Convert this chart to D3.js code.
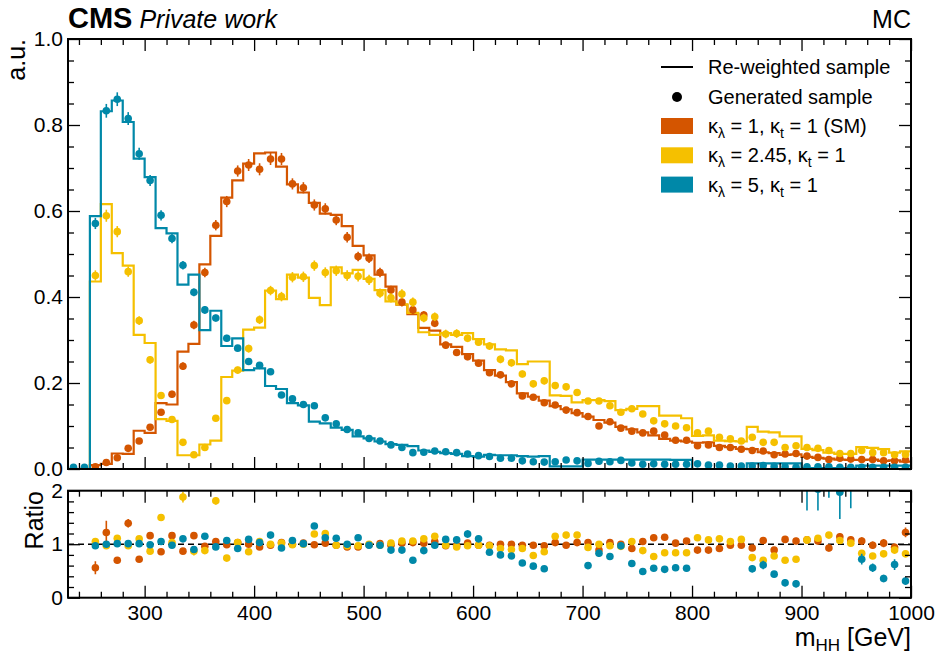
<!DOCTYPE html>
<html>
<head>
<meta charset="utf-8">
<script src="https://cdn.jsdelivr.net/npm/d3@7"></script>
<style>
  html, body { margin: 0; padding: 0; background: #fff; }
  svg { display: block; font-family: "Liberation Sans", Arial, sans-serif; }
</style>
</head>
<body>
<div id="chart"></div>
<script>
// m_HH bin edges, GeV (10 GeV bins)
const binEdges = [230, 240, 250, 260, 270, 280, 290, 300, 310, 320, 330, 340, 350, 360, 370, 380, 390, 400,
    410, 420, 430, 440, 450, 460, 470, 480, 490, 500, 510, 520, 530, 540, 550, 560, 570, 580, 590, 600,
    610, 620, 630, 640, 650, 660, 670, 680, 690, 700, 710, 720, 730, 740, 750, 760, 770, 780, 790, 800,
    810, 820, 830, 840, 850, 860, 870, 880, 890, 900, 910, 920, 930, 940, 950, 960, 970, 980, 990, 1000];

const xMajorTicks = [300, 400, 500, 600, 700, 800, 900, 1000];
const yMainTicks = [0, 0.2, 0.4, 0.6, 0.8, 1.0];
const yRatioTicks = [0, 1, 2];

const sampleKappaLambda = ['1', '2.45', '5'];
const sampleSuffix = [' (SM)', '', ''];
const sampleColours = ['#d45500', '#f5c000', '#0088a8'];

// kl = 1 (SM)
const reweightedSM = [
    0, 0, 0.009, 0.012, 0.036, 0.035, 0.089, 0.084, 0.153, 0.150,
    0.273, 0.291, 0.476, 0.542, 0.631, 0.671, 0.710, 0.734, 0.736, 0.703,
    0.662, 0.643, 0.619, 0.594, 0.591, 0.565, 0.519, 0.497, 0.452, 0.424,
    0.382, 0.360, 0.328, 0.322, 0.290, 0.284, 0.267, 0.252, 0.230, 0.217,
    0.202, 0.176, 0.168, 0.159, 0.146, 0.139, 0.130, 0.122, 0.114, 0.108,
    0.098, 0.092, 0.085, 0.078, 0.070, 0.066, 0.064, 0.061, 0.062, 0.054,
    0.051, 0.047, 0.046, 0.039, 0.037, 0.033, 0.034, 0.028, 0.026, 0.024,
    0.022, 0.021, 0.021, 0.022, 0.019, 0.020, 0.017];
const generatedSM = [
    0, 0, 0.005, 0.015, 0.026, 0.048, 0.065, 0.097, 0.132, 0.174,
    0.239, 0.335, 0.457, 0.567, 0.622, 0.693, 0.707, 0.697, 0.721, 0.721,
    0.663, 0.654, 0.614, 0.605, 0.579, 0.539, 0.494, 0.490, 0.457, 0.416,
    0.388, 0.370, 0.358, 0.339, 0.288, 0.271, 0.261, 0.246, 0.224, 0.219,
    0.198, 0.170, 0.167, 0.154, 0.149, 0.137, 0.131, 0.122, 0.100, 0.110,
    0.095, 0.088, 0.084, 0.088, 0.079, 0.067, 0.067, 0.054, 0.056, 0.050,
    0.050, 0.046, 0.043, 0.042, 0.033, 0.035, 0.036, 0.030, 0.027, 0.022,
    0.025, 0.023, 0.022, 0.022, 0.019, 0.019, 0.021];
const generatedSMErr = [
    0, 0, 0.002, 0.003, 0.003, 0.004, 0.005, 0.006, 0.007, 0.008,
    0.009, 0.010, 0.011, 0.012, 0.013, 0.013, 0.014, 0.014, 0.014, 0.014,
    0.013, 0.013, 0.013, 0.013, 0.012, 0.012, 0.011, 0.011, 0.011, 0.010,
    0.010, 0.010, 0.009, 0.009, 0.008, 0.008, 0.008, 0.008, 0.007, 0.007,
    0.007, 0.006, 0.006, 0.006, 0.006, 0.006, 0.005, 0.005, 0.005, 0.005,
    0.005, 0.005, 0.005, 0.005, 0.004, 0.004, 0.004, 0.004, 0.004, 0.004,
    0.004, 0.004, 0.004, 0.004, 0.003, 0.003, 0.003, 0.003, 0.003, 0.003,
    0.003, 0.003, 0.003, 0.003, 0.003, 0.003, 0.003];
const ratioSM = [
    null, null, 0.56, 1.22, 0.70, 1.39, 0.72, 1.16, 0.86, 1.16,
    0.87, 1.16, 0.96, 1.05, 0.99, 1.03, 1.00, 0.95, 0.98, 1.03,
    1.00, 1.02, 0.99, 1.02, 0.98, 0.95, 0.95, 0.99, 1.01, 0.98,
    1.02, 1.03, 1.02, 1.05, 0.97, 0.97, 1.02, 0.98, 0.98, 1.00,
    1.00, 0.98, 0.98, 0.97, 1.03, 0.98, 1.03, 1.03, 0.89, 1.03,
    1.00, 0.92, 1.05, 1.12, 1.13, 1.02, 1.06, 0.89, 0.89, 0.92,
    0.98, 0.98, 0.93, 1.07, 0.89, 1.09, 1.06, 1.08, 1.06, 0.93,
    1.14, 1.08, 1.06, 0.98, 1.02, 0.94, 1.22];
const ratioSMErr = [
    0, 0, 0.12, 0.22, 0.06, 0.08, 0.05, 0.04, 0.04, 0.03,
    0.03, 0.03, 0.02, 0.02, 0.02, 0.02, 0.02, 0.02, 0.02, 0.02,
    0.02, 0.02, 0.02, 0.02, 0.02, 0.02, 0.02, 0.02, 0.02, 0.02,
    0.02, 0.02, 0.025, 0.025, 0.025, 0.025, 0.025, 0.025, 0.025, 0.03,
    0.03, 0.03, 0.03, 0.03, 0.03, 0.035, 0.035, 0.035, 0.035, 0.035,
    0.04, 0.04, 0.04, 0.04, 0.04, 0.045, 0.045, 0.045, 0.05, 0.05,
    0.05, 0.05, 0.055, 0.055, 0.055, 0.06, 0.06, 0.06, 0.065, 0.065,
    0.065, 0.07, 0.07, 0.07, 0.075, 0.075, 0.09];

// kl = 2.45
const reweighted245 = [
    0, 0, 0.436, 0.616, 0.502, 0.473, 0.312, 0.293, 0.116, 0.112,
    0.032, 0.032, 0.057, 0.066, 0.214, 0.229, 0.324, 0.329, 0.415, 0.395,
    0.452, 0.445, 0.398, 0.381, 0.469, 0.455, 0.463, 0.442, 0.416, 0.390,
    0.383, 0.363, 0.318, 0.312, 0.316, 0.312, 0.316, 0.302, 0.290, 0.278,
    0.276, 0.244, 0.250, 0.250, 0.171, 0.170, 0.155, 0.160, 0.160, 0.158,
    0.137, 0.140, 0.146, 0.146, 0.124, 0.124, 0.118, 0.077, 0.078, 0.066,
    0.065, 0.064, 0.098, 0.087, 0.085, 0.076, 0.076, 0.047, 0.044, 0.038,
    0.035, 0.035, 0.051, 0.049, 0.046, 0.038, 0.041];
const generated245 = [
    0, 0, 0.450, 0.589, 0.552, 0.459, 0.345, 0.254, 0.171, 0.115,
    0.062, 0.033, 0.050, 0.118, 0.159, 0.230, 0.280, 0.347, 0.415, 0.401,
    0.446, 0.447, 0.473, 0.457, 0.461, 0.450, 0.448, 0.440, 0.409, 0.398,
    0.407, 0.388, 0.351, 0.354, 0.314, 0.315, 0.304, 0.295, 0.286, 0.255,
    0.247, 0.221, 0.198, 0.205, 0.194, 0.191, 0.178, 0.158, 0.158, 0.147,
    0.132, 0.140, 0.128, 0.112, 0.105, 0.100, 0.096, 0.084, 0.088, 0.074,
    0.070, 0.065, 0.074, 0.062, 0.062, 0.050, 0.054, 0.050, 0.048, 0.043,
    0.036, 0.036, 0.043, 0.038, 0.038, 0.033, 0.034];
const generated245Err = [
    0, 0, 0.012, 0.014, 0.013, 0.012, 0.010, 0.009, 0.007, 0.006,
    0.004, 0.003, 0.004, 0.006, 0.007, 0.008, 0.009, 0.010, 0.011, 0.011,
    0.012, 0.012, 0.012, 0.012, 0.012, 0.012, 0.012, 0.012, 0.011, 0.011,
    0.011, 0.011, 0.010, 0.010, 0.010, 0.010, 0.009, 0.009, 0.009, 0.009,
    0.009, 0.008, 0.008, 0.008, 0.008, 0.008, 0.007, 0.007, 0.007, 0.007,
    0.007, 0.007, 0.007, 0.006, 0.006, 0.006, 0.006, 0.005, 0.005, 0.005,
    0.005, 0.005, 0.005, 0.005, 0.005, 0.004, 0.004, 0.004, 0.004, 0.004,
    0.004, 0.004, 0.004, 0.004, 0.004, 0.004, 0.004];
const ratio245 = [
    null, null, 1.05, 0.97, 1.11, 0.97, 1.10, 0.87, 1.50, 1.03,
    1.88, 0.87, 0.88, 1.81, 0.74, 1.03, 0.86, 1.05, 1.00, 1.02,
    0.99, 1.00, 1.19, 1.20, 0.98, 0.97, 0.97, 1.00, 0.98, 1.02,
    1.06, 1.06, 1.10, 1.15, 0.98, 0.95, 0.97, 0.98, 0.97, 0.92,
    0.90, 0.92, 0.79, 0.86, 1.15, 1.17, 1.17, 0.94, 1.00, 0.97,
    0.96, 1.05, 0.88, 0.77, 0.84, 0.84, 0.84, 1.12, 1.08, 1.10,
    1.05, 1.09, 0.75, 0.70, 0.78, 0.70, 0.72, 1.08, 1.11, 1.17,
    1.07, 1.02, 0.83, 0.78, 0.82, 0.89, 0.82];
const ratio245Err = [
    0, 0, 0.02, 0.02, 0.02, 0.02, 0.02, 0.02, 0.05, 0.04,
    0.10, 0.08, 0.06, 0.07, 0.04, 0.03, 0.025, 0.025, 0.02, 0.02,
    0.02, 0.02, 0.02, 0.02, 0.02, 0.02, 0.02, 0.02, 0.02, 0.02,
    0.02, 0.02, 0.02, 0.025, 0.025, 0.025, 0.025, 0.025, 0.025, 0.025,
    0.025, 0.025, 0.03, 0.03, 0.03, 0.03, 0.03, 0.03, 0.03, 0.03,
    0.035, 0.035, 0.035, 0.035, 0.035, 0.035, 0.035, 0.04, 0.04, 0.04,
    0.04, 0.04, 0.045, 0.045, 0.045, 0.05, 0.05, 0.05, 0.05, 0.05,
    0.055, 0.055, 0.055, 0.055, 0.06, 0.06, 0.06];

// kl = 5
const reweighted5 = [
    0, 0, 0.588, 0.832, 0.857, 0.807, 0.722, 0.679, 0.560, 0.548,
    0.429, 0.452, 0.323, 0.368, 0.286, 0.304, 0.230, 0.234, 0.193, 0.186,
    0.153, 0.148, 0.110, 0.106, 0.096, 0.091, 0.076, 0.071, 0.064, 0.058,
    0.056, 0.053, 0.043, 0.040, 0.037, 0.035, 0.030, 0.029, 0.033, 0.032,
    0.032, 0.030, 0.029, 0.030, 0.006, 0.006, 0.006, 0.022, 0.022, 0.022,
    0.022, 0.022, 0.022, 0.022, 0.022, 0.021, 0.021, 0, 0, 0,
    0, 0, 0.013, 0.013, 0.013, 0.013, 0.013, 0.002, 0.002, 0.002,
    0.002, 0.002, 0.008, 0.008, 0.008, 0.008, 0.008];
const generated5 = [
    0.004, 0.004, 0.571, 0.833, 0.860, 0.815, 0.733, 0.671, 0.590, 0.536,
    0.474, 0.411, 0.370, 0.351, 0.304, 0.281, 0.250, 0.241, 0.226, 0.172,
    0.163, 0.150, 0.147, 0.119, 0.105, 0.092, 0.084, 0.071, 0.065, 0.056,
    0.050, 0.038, 0.039, 0.042, 0.040, 0.038, 0.035, 0.031, 0.029, 0.025,
    0.025, 0.019, 0.017, 0.016, 0.017, 0.021, 0.019, 0.013, 0.018, 0.017,
    0.020, 0.014, 0.011, 0.012, 0.011, 0.011, 0.011, 0.012, 0.009, 0.009,
    0.007, 0.007, 0.007, 0.008, 0.006, 0.005, 0.004, 0.005, 0.005, 0.005,
    0.004, 0.004, 0.004, 0.004, 0.004, 0.004, 0.004];
const generated5Err = [
    0.001, 0.001, 0.013, 0.016, 0.016, 0.015, 0.014, 0.013, 0.012, 0.011,
    0.010, 0.009, 0.009, 0.008, 0.008, 0.007, 0.007, 0.007, 0.006, 0.006,
    0.005, 0.005, 0.005, 0.005, 0.004, 0.004, 0.004, 0.004, 0.004, 0.003,
    0.003, 0.003, 0.003, 0.003, 0.003, 0.003, 0.003, 0.003, 0.003, 0.003,
    0.002, 0.002, 0.002, 0.002, 0.002, 0.002, 0.002, 0.002, 0.002, 0.002,
    0.002, 0.002, 0.002, 0.002, 0.002, 0.002, 0.002, 0.002, 0.002, 0.002,
    0.002, 0.002, 0.002, 0.002, 0.002, 0.002, 0.002, 0.002, 0.002, 0.002,
    0.002, 0.002, 0.002, 0.002, 0.002, 0.002, 0.002];
const ratio5 = [
    null, null, 0.97, 1.00, 1.01, 1.01, 1.01, 0.99, 1.05, 0.98,
    1.10, 0.90, 1.15, 0.95, 1.07, 0.92, 1.09, 1.03, 1.17, 0.93,
    1.07, 1.01, 1.34, 1.12, 1.11, 1.00, 1.12, 0.98, 0.98, 0.89,
    0.89, 0.70, 0.88, 0.98, 1.09, 1.08, 1.19, 1.10, 0.85, 0.80,
    0.78, 0.65, 0.59, 0.54, null, null, null, 0.60, 0.83, 0.77,
    0.97, 0.64, 0.49, 0.55, 0.53, 0.56, 0.55, null, null, null,
    null, null, 0.54, 0.61, 0.44, 0.28, 0.26, 2.60, 2.03, 2.40,
    1.97, 2.50, 0.72, 0.56, 0.36, 0.62, 0.31];
const ratio5Err = [
    0, 0, 0.015, 0.015, 0.015, 0.015, 0.015, 0.015, 0.015, 0.018,
    0.018, 0.02, 0.02, 0.02, 0.022, 0.022, 0.025, 0.025, 0.028, 0.03,
    0.03, 0.032, 0.035, 0.037, 0.04, 0.04, 0.042, 0.045, 0.048, 0.05,
    0.05, 0.052, 0.055, 0.058, 0.06, 0.065, 0.07, 0.065, 0.05, 0.05,
    0.05, 0.045, 0.045, 0.045, 0, 0, 0, 0.05, 0.07, 0.06,
    0.065, 0.06, 0.05, 0.055, 0.055, 0.055, 0.055, 0, 0, 0,
    0, 0, 0.07, 0.08, 0.06, 0.07, 0.07, 0.97, 0.40, 0.53,
    0.50, 0.83, 0.10, 0.08, 0.07, 0.10, 0.07];

const samples = [
    { hist: reweightedSM, gen: generatedSM, genErr: generatedSMErr, ratio: ratioSM, ratioErr: ratioSMErr },
    { hist: reweighted245, gen: generated245, genErr: generated245Err, ratio: ratio245, ratioErr: ratio245Err },
    { hist: reweighted5, gen: generated5, genErr: generated5Err, ratio: ratio5, ratioErr: ratio5Err }
].map((s, i) => ({ ...s, colour: sampleColours[i], kl: sampleKappaLambda[i], suffix: sampleSuffix[i] }));

const W = 938, H = 655;
const svg = d3.select('#chart').append('svg').attr('width', W).attr('height', H);

const x = d3.scaleLinear().domain([230, 1000]).range([68, 911]);
const y = d3.scaleLinear().domain([0, 1]).range([469, 39]);
const yr = d3.scaleLinear().domain([0, 2]).range([597.7, 490.7]);

const binCentres = binEdges.slice(0, -1).map((e, i) => (e + binEdges[i + 1]) / 2);
const xMinorTicks = d3.range(240, 1000, 20).filter(v => !xMajorTicks.includes(v));

// clip paths
const defs = svg.append('defs');
defs.append('clipPath').attr('id', 'clipMain').append('rect')
    .attr('x', x(230)).attr('y', y(1)).attr('width', x(1000) - x(230)).attr('height', y(0) - y(1));
defs.append('clipPath').attr('id', 'clipRatio').append('rect')
    .attr('x', x(230)).attr('y', yr(2)).attr('width', x(1000) - x(230)).attr('height', yr(0) - yr(2));

function styleAxis(g, fontSize) {
    g.select('.domain').remove();
    g.selectAll('.tick line').attr('stroke', '#000').attr('stroke-width', 1.3);
    g.selectAll('.tick text').attr('fill', '#000').style('font-size', fontSize + 'px');
}

function drawFrame(ys, yMajor, yMinor, yFormat, showXLabels) {
    const top = ys.range()[1], bottom = ys.range()[0];
    const sets = [
        { vals: xMajorTicks, size: 12 },
        { vals: xMinorTicks, size: 6 }
    ];
    sets.forEach((s, k) => {
        const b = svg.append('g').attr('transform', `translate(0,${bottom})`)
            .call(d3.axisBottom(x).tickValues(s.vals).tickSizeInner(-s.size).tickSizeOuter(0).tickPadding(7)
                .tickFormat(k === 0 && showXLabels ? d3.format('d') : ''));
        styleAxis(b, 21);
        const t = svg.append('g').attr('transform', `translate(0,${top})`)
            .call(d3.axisTop(x).tickValues(s.vals).tickSizeInner(-s.size).tickSizeOuter(0).tickFormat(''));
        styleAxis(t, 21);
    });
    [{ vals: yMajor, size: 12 }, { vals: yMinor, size: 6 }].forEach((s, k) => {
        const l = svg.append('g').attr('transform', `translate(${x(230)},0)`)
            .call(d3.axisLeft(ys).tickValues(s.vals).tickSizeInner(-s.size).tickSizeOuter(0).tickPadding(5)
                .tickFormat(k === 0 ? yFormat : ''));
        styleAxis(l, 21);
        const r = svg.append('g').attr('transform', `translate(${x(1000)},0)`)
            .call(d3.axisRight(ys).tickValues(s.vals).tickSizeInner(-s.size).tickSizeOuter(0).tickFormat(''));
        styleAxis(r, 21);
    });
    svg.append('rect')
        .attr('x', x(230)).attr('y', top)
        .attr('width', x(1000) - x(230)).attr('height', bottom - top)
        .attr('fill', 'none').attr('stroke', '#000').attr('stroke-width', 2);
}

// ---------- main panel ----------
const main = svg.append('g').attr('clip-path', 'url(#clipMain)');
const stepLine = d3.line().x(d => x(d[0])).y(d => y(d[1])).curve(d3.curveStepAfter);

samples.forEach(s => {
    const pts = binEdges.map((e, i) => [e, s.hist[Math.min(i, s.hist.length - 1)]]);
    main.append('path')
        .attr('d', stepLine(pts))
        .attr('fill', 'none')
        .attr('stroke', s.colour)
        .attr('stroke-width', 2.2);
});

samples.forEach(s => {
    const g = main.append('g');
    g.selectAll('line')
        .data(binCentres.map((c, i) => ({ c, v: s.gen[i], e: s.genErr[i] })))
        .join('line')
        .attr('x1', d => x(d.c)).attr('x2', d => x(d.c))
        .attr('y1', d => y(d.v - d.e)).attr('y2', d => y(d.v + d.e))
        .attr('stroke', s.colour).attr('stroke-width', 1.6);
    g.selectAll('circle')
        .data(binCentres.map((c, i) => ({ c, v: s.gen[i] })))
        .join('circle')
        .attr('cx', d => x(d.c)).attr('cy', d => y(d.v))
        .attr('r', 3.8)
        .attr('fill', s.colour);
});

drawFrame(y, yMainTicks, d3.range(0.05, 1, 0.05).filter(v => Math.abs(v * 5 - Math.round(v * 5)) > 1e-6),
    d3.format('.1f'), false);

// ---------- ratio panel ----------
const ratio = svg.append('g').attr('clip-path', 'url(#clipRatio)');
ratio.append('line')
    .attr('x1', x(230)).attr('x2', x(1000))
    .attr('y1', yr(1)).attr('y2', yr(1))
    .attr('stroke', '#000').attr('stroke-width', 1.6).attr('stroke-dasharray', '6,4');

samples.forEach(s => {
    const data = binCentres.map((c, i) => ({ c, v: s.ratio[i], e: s.ratioErr[i] })).filter(d => d.v !== null);
    const g = ratio.append('g');
    g.selectAll('line')
        .data(data)
        .join('line')
        .attr('x1', d => x(d.c)).attr('x2', d => x(d.c))
        .attr('y1', d => yr(d.v - d.e)).attr('y2', d => yr(d.v + d.e))
        .attr('stroke', s.colour).attr('stroke-width', 1.6);
    g.selectAll('circle')
        .data(data)
        .join('circle')
        .attr('cx', d => x(d.c)).attr('cy', d => yr(d.v))
        .attr('r', 3.8)
        .attr('fill', s.colour);
});

drawFrame(yr, yRatioTicks, [0.2, 0.4, 0.6, 0.8, 1.2, 1.4, 1.6, 1.8], d3.format('d'), true);

// ---------- titles ----------
svg.append('text')
    .attr('transform', 'translate(25,39) rotate(-90)')
    .attr('text-anchor', 'end')
    .style('font-size', '25px')
    .text('a.u.');

svg.append('text')
    .attr('transform', 'translate(43,491) rotate(-90)')
    .attr('text-anchor', 'end')
    .style('font-size', '25px')
    .text('Ratio');

const xt = svg.append('text')
    .attr('x', x(1000)).attr('y', 646)
    .attr('text-anchor', 'end')
    .style('font-size', '25px');
xt.append('tspan').text('m');
xt.append('tspan').attr('dy', 5).style('font-size', '17px').text('HH');
xt.append('tspan').attr('dy', -5).text(' [GeV]');

const cms = svg.append('text').attr('x', 68).attr('y', 28);
cms.append('tspan').style('font-size', '29px').style('font-weight', 'bold').text('CMS');
cms.append('tspan').style('font-size', '25px').style('font-style', 'italic').text(' Private work');

svg.append('text')
    .attr('x', x(1000)).attr('y', 28)
    .attr('text-anchor', 'end')
    .style('font-size', '25px')
    .text('MC');

// ---------- legend ----------
const legend = svg.append('g');
const legX = 661, legTextX = 708;

legend.append('line')
    .attr('x1', legX).attr('x2', legX + 32)
    .attr('y1', 67).attr('y2', 67)
    .attr('stroke', '#000').attr('stroke-width', 2);
legend.append('text').attr('x', legTextX).attr('y', 74).style('font-size', '20px').text('Re-weighted sample');

legend.append('circle').attr('cx', legX + 16).attr('cy', 97).attr('r', 5).attr('fill', '#000');
legend.append('text').attr('x', legTextX).attr('y', 104).style('font-size', '20px').text('Generated sample');

samples.forEach((s, i) => {
    const cy = 126 + i * 29.3;
    legend.append('rect')
        .attr('x', legX).attr('y', cy - 8)
        .attr('width', 32).attr('height', 16)
        .attr('fill', s.colour);
    const t = legend.append('text').attr('x', legTextX).attr('y', cy + 7).style('font-size', '20px');
    t.append('tspan').text('κ');
    t.append('tspan').attr('dy', 5).style('font-size', '14px').text('λ');
    t.append('tspan').attr('dy', -5).text(' = ' + s.kl + ', κ');
    t.append('tspan').attr('dy', 5).style('font-size', '14px').text('t');
    t.append('tspan').attr('dy', -5).text(' = 1' + s.suffix);
});
</script>
</body>
</html>
